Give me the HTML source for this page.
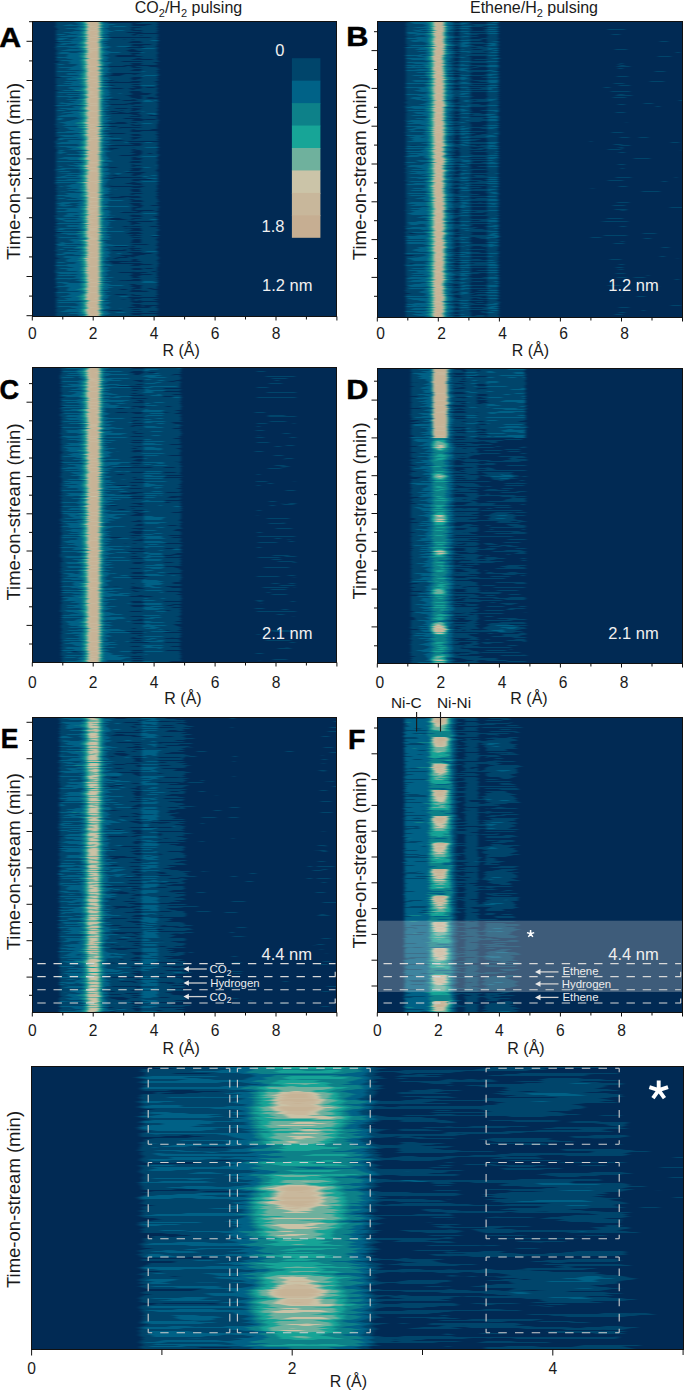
<!DOCTYPE html>
<html><head><meta charset="utf-8"><title>figure</title><style>
html,body{margin:0;padding:0;background:#fff;}
body{width:685px;height:1390px;overflow:hidden;}
svg{display:block;}
text{font-family:"Liberation Sans", sans-serif;}
.tk{font-size:15.6px;fill:#1a1a1a;}
.ax{font-size:16px;fill:#1a1a1a;}
.yl{font-size:18.5px;fill:#1a1a1a;}
.pl{font-size:27.5px;font-weight:bold;fill:#000;stroke:#000;stroke-width:0.5px;}
.tt{font-size:16px;fill:#1a1a1a;}
.nm{font-size:16.5px;fill:#f0f0f0;}
.an{font-size:11.4px;fill:#ececec;}
.ni{font-size:15.4px;fill:#1a1a1a;}
</style></head>
<body><svg width="685" height="1390" viewBox="0 0 685 1390">
<defs><radialGradient id="sGh"><stop offset="0.000" stop-color="#fcfcfc" stop-opacity="0.410"/><stop offset="0.550" stop-color="#fcfcfc" stop-opacity="0.360"/><stop offset="0.820" stop-color="#fcfcfc" stop-opacity="0.200"/><stop offset="1.000" stop-color="#fcfcfc" stop-opacity="0.000"/></radialGradient><radialGradient id="sGc"><stop offset="0.000" stop-color="#fcfcfc" stop-opacity="1.000"/><stop offset="0.550" stop-color="#fcfcfc" stop-opacity="0.727"/><stop offset="0.800" stop-color="#fcfcfc" stop-opacity="0.273"/><stop offset="1.000" stop-color="#fcfcfc" stop-opacity="0.000"/></radialGradient><radialGradient id="sF"><stop offset="0.000" stop-color="#fcfcfc" stop-opacity="1.000"/><stop offset="0.450" stop-color="#fcfcfc" stop-opacity="0.754"/><stop offset="0.600" stop-color="#fcfcfc" stop-opacity="0.491"/><stop offset="0.750" stop-color="#fcfcfc" stop-opacity="0.351"/><stop offset="0.900" stop-color="#fcfcfc" stop-opacity="0.193"/><stop offset="1.000" stop-color="#fcfcfc" stop-opacity="0.000"/></radialGradient><radialGradient id="sD5"><stop offset="0.000" stop-color="#fcfcfc" stop-opacity="0.446"/><stop offset="0.500" stop-color="#fcfcfc" stop-opacity="0.339"/><stop offset="0.800" stop-color="#fcfcfc" stop-opacity="0.179"/><stop offset="1.000" stop-color="#fcfcfc" stop-opacity="0.000"/></radialGradient><radialGradient id="sD8"><stop offset="0.000" stop-color="#fcfcfc" stop-opacity="1.000"/><stop offset="0.450" stop-color="#fcfcfc" stop-opacity="0.750"/><stop offset="0.600" stop-color="#fcfcfc" stop-opacity="0.482"/><stop offset="0.750" stop-color="#fcfcfc" stop-opacity="0.339"/><stop offset="0.900" stop-color="#fcfcfc" stop-opacity="0.179"/><stop offset="1.000" stop-color="#fcfcfc" stop-opacity="0.000"/></radialGradient><radialGradient id="sB"><stop offset="0.000" stop-color="#fcfcfc" stop-opacity="0.167"/><stop offset="0.600" stop-color="#fcfcfc" stop-opacity="0.128"/><stop offset="1.000" stop-color="#fcfcfc" stop-opacity="0.000"/></radialGradient><radialGradient id="sBf"><stop offset="0.000" stop-color="#fcfcfc" stop-opacity="0.107"/><stop offset="0.600" stop-color="#fcfcfc" stop-opacity="0.082"/><stop offset="1.000" stop-color="#fcfcfc" stop-opacity="0.000"/></radialGradient><radialGradient id="sB2"><stop offset="0.000" stop-color="#fcfcfc" stop-opacity="0.114"/><stop offset="0.600" stop-color="#fcfcfc" stop-opacity="0.089"/><stop offset="1.000" stop-color="#fcfcfc" stop-opacity="0.000"/></radialGradient><radialGradient id="sFu" cx="0.5" cy="0" r="1" fx="0.5" fy="0"><stop offset="0" stop-color="#fcfcfc" stop-opacity="1.000"/><stop offset="0.3" stop-color="#fcfcfc" stop-opacity="0.761"/><stop offset="0.45" stop-color="#fcfcfc" stop-opacity="0.457"/><stop offset="0.58" stop-color="#fcfcfc" stop-opacity="0.283"/><stop offset="0.78" stop-color="#fcfcfc" stop-opacity="0.130"/><stop offset="1.0" stop-color="#fcfcfc" stop-opacity="0.000"/></radialGradient><linearGradient id="gA" gradientUnits="userSpaceOnUse" x1="32.30" y1="0" x2="336.90" y2="0"><stop offset="0.0000" stop-color="#000000"/><stop offset="0.0750" stop-color="#000000"/><stop offset="0.0800" stop-color="#363636"/><stop offset="0.0920" stop-color="#3d3d3d"/><stop offset="0.1200" stop-color="#434343"/><stop offset="0.1450" stop-color="#474747"/><stop offset="0.1580" stop-color="#545454"/><stop offset="0.1680" stop-color="#6d6d6d"/><stop offset="0.1760" stop-color="#929292"/><stop offset="0.1820" stop-color="#bababa"/><stop offset="0.1870" stop-color="#fbfbfb"/><stop offset="0.2150" stop-color="#fbfbfb"/><stop offset="0.2200" stop-color="#aeaeae"/><stop offset="0.2250" stop-color="#818181"/><stop offset="0.2310" stop-color="#5f5f5f"/><stop offset="0.2370" stop-color="#4e4e4e"/><stop offset="0.2480" stop-color="#434343"/><stop offset="0.2560" stop-color="#343434"/><stop offset="0.3200" stop-color="#2f2f2f"/><stop offset="0.3280" stop-color="#252525"/><stop offset="0.3550" stop-color="#252525"/><stop offset="0.3620" stop-color="#333333"/><stop offset="0.4080" stop-color="#333333"/><stop offset="0.4140" stop-color="#181818"/><stop offset="0.4200" stop-color="#000000"/><stop offset="1.0000" stop-color="#000000"/></linearGradient><filter id="fA" x="0" y="0" width="1" height="1" color-interpolation-filters="sRGB">
<feTurbulence type="fractalNoise" baseFrequency="0.01 0.5" numOctaves="2" seed="3" result="t1"/>
<feColorMatrix in="t1" type="matrix" values="1 0 0 0 0  0 0 0 0 0.5  0 0 0 0 0  0 0 0 0 1" result="dm"/>
<feDisplacementMap in="SourceGraphic" in2="dm" scale="3" xChannelSelector="R" yChannelSelector="G" result="disp"/>
<feTurbulence type="fractalNoise" baseFrequency="0.03 0.8" numOctaves="2" seed="13" result="t2"/>
<feColorMatrix in="t2" type="matrix" values="1 0 0 0 0  1 0 0 0 0  1 0 0 0 0  0 0 0 0 1" result="nz"/>
<feComposite in="disp" in2="nz" operator="arithmetic" k1="0.35" k2="0.825" k3="0.22" k4="-0.1489" result="val"/>
<feComponentTransfer in="val" result="col">
<feFuncR type="discrete" tableValues="0.004 0.000 0.000 0.051 0.090 0.435 0.796 0.792 0.784"/><feFuncG type="discrete" tableValues="0.165 0.271 0.384 0.506 0.647 0.694 0.761 0.725 0.702"/><feFuncB type="discrete" tableValues="0.333 0.420 0.529 0.537 0.592 0.616 0.651 0.612 0.592"/>
<feFuncA type="linear" slope="0" intercept="1"/>
</feComponentTransfer>
<feGaussianBlur in="col" stdDeviation="1.8 0.5"/>
</filter><linearGradient id="gB" gradientUnits="userSpaceOnUse" x1="377.30" y1="0" x2="682.50" y2="0"><stop offset="0.0000" stop-color="#000000"/><stop offset="0.0900" stop-color="#000000"/><stop offset="0.0950" stop-color="#373737"/><stop offset="0.1200" stop-color="#404040"/><stop offset="0.1550" stop-color="#454545"/><stop offset="0.1650" stop-color="#545454"/><stop offset="0.1740" stop-color="#6d6d6d"/><stop offset="0.1810" stop-color="#929292"/><stop offset="0.1870" stop-color="#c2c2c2"/><stop offset="0.1920" stop-color="#fbfbfb"/><stop offset="0.2130" stop-color="#fbfbfb"/><stop offset="0.2170" stop-color="#b4b4b4"/><stop offset="0.2210" stop-color="#898989"/><stop offset="0.2260" stop-color="#656565"/><stop offset="0.2330" stop-color="#4e4e4e"/><stop offset="0.2450" stop-color="#404040"/><stop offset="0.2550" stop-color="#262626"/><stop offset="0.2680" stop-color="#262626"/><stop offset="0.2740" stop-color="#404040"/><stop offset="0.3000" stop-color="#404040"/><stop offset="0.3080" stop-color="#252525"/><stop offset="0.3580" stop-color="#252525"/><stop offset="0.3640" stop-color="#3e3e3e"/><stop offset="0.3940" stop-color="#3e3e3e"/><stop offset="0.4020" stop-color="#000000"/><stop offset="0.6800" stop-color="#000000"/><stop offset="0.7000" stop-color="#151515"/><stop offset="0.7700" stop-color="#171717"/><stop offset="0.8000" stop-color="#1e1e1e"/><stop offset="0.8300" stop-color="#171717"/><stop offset="0.9800" stop-color="#171717"/><stop offset="1.0000" stop-color="#141414"/></linearGradient><filter id="fB" x="0" y="0" width="1" height="1" color-interpolation-filters="sRGB">
<feTurbulence type="fractalNoise" baseFrequency="0.01 0.5" numOctaves="2" seed="10" result="t1"/>
<feColorMatrix in="t1" type="matrix" values="1 0 0 0 0  0 0 0 0 0.5  0 0 0 0 0  0 0 0 0 1" result="dm"/>
<feDisplacementMap in="SourceGraphic" in2="dm" scale="3" xChannelSelector="R" yChannelSelector="G" result="disp"/>
<feTurbulence type="fractalNoise" baseFrequency="0.03 0.8" numOctaves="2" seed="20" result="t2"/>
<feColorMatrix in="t2" type="matrix" values="1 0 0 0 0  1 0 0 0 0  1 0 0 0 0  0 0 0 0 1" result="nz"/>
<feComposite in="disp" in2="nz" operator="arithmetic" k1="0.35" k2="0.825" k3="0.22" k4="-0.1489" result="val"/>
<feComponentTransfer in="val" result="col">
<feFuncR type="discrete" tableValues="0.004 0.000 0.000 0.051 0.090 0.435 0.796 0.792 0.784"/><feFuncG type="discrete" tableValues="0.165 0.271 0.384 0.506 0.647 0.694 0.761 0.725 0.702"/><feFuncB type="discrete" tableValues="0.333 0.420 0.529 0.537 0.592 0.616 0.651 0.612 0.592"/>
<feFuncA type="linear" slope="0" intercept="1"/>
</feComponentTransfer>
<feGaussianBlur in="col" stdDeviation="1.8 0.5"/>
</filter><linearGradient id="gC" gradientUnits="userSpaceOnUse" x1="32.30" y1="0" x2="336.90" y2="0"><stop offset="0.0000" stop-color="#000000"/><stop offset="0.0920" stop-color="#000000"/><stop offset="0.0970" stop-color="#373737"/><stop offset="0.1200" stop-color="#404040"/><stop offset="0.1500" stop-color="#454545"/><stop offset="0.1620" stop-color="#545454"/><stop offset="0.1700" stop-color="#6d6d6d"/><stop offset="0.1780" stop-color="#929292"/><stop offset="0.1840" stop-color="#c2c2c2"/><stop offset="0.1900" stop-color="#fbfbfb"/><stop offset="0.2150" stop-color="#fbfbfb"/><stop offset="0.2200" stop-color="#b4b4b4"/><stop offset="0.2250" stop-color="#898989"/><stop offset="0.2300" stop-color="#656565"/><stop offset="0.2380" stop-color="#4b4b4b"/><stop offset="0.2550" stop-color="#3d3d3d"/><stop offset="0.3200" stop-color="#363636"/><stop offset="0.3300" stop-color="#282828"/><stop offset="0.3600" stop-color="#2a2a2a"/><stop offset="0.3700" stop-color="#3e3e3e"/><stop offset="0.4250" stop-color="#3e3e3e"/><stop offset="0.4400" stop-color="#323232"/><stop offset="0.4850" stop-color="#2f2f2f"/><stop offset="0.4950" stop-color="#000000"/><stop offset="0.7200" stop-color="#000000"/><stop offset="0.7400" stop-color="#1c1c1c"/><stop offset="0.8600" stop-color="#1c1c1c"/><stop offset="0.8900" stop-color="#000000"/><stop offset="1.0000" stop-color="#000000"/></linearGradient><filter id="fC" x="0" y="0" width="1" height="1" color-interpolation-filters="sRGB">
<feTurbulence type="fractalNoise" baseFrequency="0.01 0.5" numOctaves="2" seed="17" result="t1"/>
<feColorMatrix in="t1" type="matrix" values="1 0 0 0 0  0 0 0 0 0.5  0 0 0 0 0  0 0 0 0 1" result="dm"/>
<feDisplacementMap in="SourceGraphic" in2="dm" scale="3" xChannelSelector="R" yChannelSelector="G" result="disp"/>
<feTurbulence type="fractalNoise" baseFrequency="0.03 0.8" numOctaves="2" seed="27" result="t2"/>
<feColorMatrix in="t2" type="matrix" values="1 0 0 0 0  1 0 0 0 0  1 0 0 0 0  0 0 0 0 1" result="nz"/>
<feComposite in="disp" in2="nz" operator="arithmetic" k1="0.35" k2="0.825" k3="0.22" k4="-0.1489" result="val"/>
<feComponentTransfer in="val" result="col">
<feFuncR type="discrete" tableValues="0.004 0.000 0.000 0.051 0.090 0.435 0.796 0.792 0.784"/><feFuncG type="discrete" tableValues="0.165 0.271 0.384 0.506 0.647 0.694 0.761 0.725 0.702"/><feFuncB type="discrete" tableValues="0.333 0.420 0.529 0.537 0.592 0.616 0.651 0.612 0.592"/>
<feFuncA type="linear" slope="0" intercept="1"/>
</feComponentTransfer>
<feGaussianBlur in="col" stdDeviation="1.8 0.5"/>
</filter><linearGradient id="gD" gradientUnits="userSpaceOnUse" x1="377.30" y1="0" x2="682.50" y2="0"><stop offset="0.0000" stop-color="#000000"/><stop offset="0.1060" stop-color="#000000"/><stop offset="0.1120" stop-color="#2f2f2f"/><stop offset="0.1400" stop-color="#3a3a3a"/><stop offset="0.1600" stop-color="#434343"/><stop offset="0.1750" stop-color="#515151"/><stop offset="0.1850" stop-color="#6a6a6a"/><stop offset="0.1950" stop-color="#767676"/><stop offset="0.2150" stop-color="#767676"/><stop offset="0.2250" stop-color="#656565"/><stop offset="0.2350" stop-color="#515151"/><stop offset="0.2450" stop-color="#404040"/><stop offset="0.2550" stop-color="#292929"/><stop offset="0.2850" stop-color="#262626"/><stop offset="0.2950" stop-color="#2a2a2a"/><stop offset="0.3250" stop-color="#2a2a2a"/><stop offset="0.3350" stop-color="#1e1e1e"/><stop offset="0.3500" stop-color="#1e1e1e"/><stop offset="0.3600" stop-color="#222222"/><stop offset="0.4850" stop-color="#222222"/><stop offset="0.4950" stop-color="#000000"/><stop offset="1.0000" stop-color="#000000"/></linearGradient><filter id="fD" x="0" y="0" width="1" height="1" color-interpolation-filters="sRGB">
<feTurbulence type="fractalNoise" baseFrequency="0.01 0.5" numOctaves="2" seed="24" result="t1"/>
<feColorMatrix in="t1" type="matrix" values="1 0 0 0 0  0 0 0 0 0.5  0 0 0 0 0  0 0 0 0 1" result="dm"/>
<feDisplacementMap in="SourceGraphic" in2="dm" scale="3" xChannelSelector="R" yChannelSelector="G" result="disp"/>
<feTurbulence type="fractalNoise" baseFrequency="0.03 0.8" numOctaves="2" seed="34" result="t2"/>
<feColorMatrix in="t2" type="matrix" values="1 0 0 0 0  1 0 0 0 0  1 0 0 0 0  0 0 0 0 1" result="nz"/>
<feComposite in="disp" in2="nz" operator="arithmetic" k1="0.3" k2="0.85" k3="0.2" k4="-0.1389" result="val"/>
<feComponentTransfer in="val" result="col">
<feFuncR type="discrete" tableValues="0.004 0.000 0.000 0.051 0.090 0.435 0.796 0.792 0.784"/><feFuncG type="discrete" tableValues="0.165 0.271 0.384 0.506 0.647 0.694 0.761 0.725 0.702"/><feFuncB type="discrete" tableValues="0.333 0.420 0.529 0.537 0.592 0.616 0.651 0.612 0.592"/>
<feFuncA type="linear" slope="0" intercept="1"/>
</feComponentTransfer>
<feGaussianBlur in="col" stdDeviation="1.8 0.5"/>
</filter><linearGradient id="gE" gradientUnits="userSpaceOnUse" x1="32.30" y1="0" x2="336.90" y2="0"><stop offset="0.0000" stop-color="#000000"/><stop offset="0.0860" stop-color="#000000"/><stop offset="0.0910" stop-color="#373737"/><stop offset="0.1200" stop-color="#434343"/><stop offset="0.1550" stop-color="#474747"/><stop offset="0.1660" stop-color="#565656"/><stop offset="0.1740" stop-color="#707070"/><stop offset="0.1810" stop-color="#8f8f8f"/><stop offset="0.1870" stop-color="#bababa"/><stop offset="0.2150" stop-color="#bababa"/><stop offset="0.2210" stop-color="#8f8f8f"/><stop offset="0.2270" stop-color="#707070"/><stop offset="0.2340" stop-color="#545454"/><stop offset="0.2440" stop-color="#434343"/><stop offset="0.2600" stop-color="#363636"/><stop offset="0.3220" stop-color="#323232"/><stop offset="0.3300" stop-color="#292929"/><stop offset="0.3560" stop-color="#292929"/><stop offset="0.3620" stop-color="#434343"/><stop offset="0.4080" stop-color="#434343"/><stop offset="0.4160" stop-color="#303030"/><stop offset="0.4950" stop-color="#292929"/><stop offset="0.5050" stop-color="#181818"/><stop offset="0.5600" stop-color="#171717"/><stop offset="0.5700" stop-color="#121212"/><stop offset="0.6300" stop-color="#121212"/><stop offset="0.6600" stop-color="#1b1b1b"/><stop offset="0.6900" stop-color="#121212"/><stop offset="0.9200" stop-color="#121212"/><stop offset="0.9600" stop-color="#1b1b1b"/><stop offset="1.0000" stop-color="#171717"/></linearGradient><filter id="fE" x="0" y="0" width="1" height="1" color-interpolation-filters="sRGB">
<feTurbulence type="fractalNoise" baseFrequency="0.01 0.5" numOctaves="2" seed="31" result="t1"/>
<feColorMatrix in="t1" type="matrix" values="1 0 0 0 0  0 0 0 0 0.5  0 0 0 0 0  0 0 0 0 1" result="dm"/>
<feDisplacementMap in="SourceGraphic" in2="dm" scale="3" xChannelSelector="R" yChannelSelector="G" result="disp"/>
<feTurbulence type="fractalNoise" baseFrequency="0.03 0.8" numOctaves="2" seed="41" result="t2"/>
<feColorMatrix in="t2" type="matrix" values="1 0 0 0 0  1 0 0 0 0  1 0 0 0 0  0 0 0 0 1" result="nz"/>
<feComposite in="disp" in2="nz" operator="arithmetic" k1="0.45" k2="0.775" k3="0.22" k4="-0.1489" result="val"/>
<feComponentTransfer in="val" result="col">
<feFuncR type="discrete" tableValues="0.004 0.000 0.000 0.051 0.090 0.435 0.796 0.792 0.784"/><feFuncG type="discrete" tableValues="0.165 0.271 0.384 0.506 0.647 0.694 0.761 0.725 0.702"/><feFuncB type="discrete" tableValues="0.333 0.420 0.529 0.537 0.592 0.616 0.651 0.612 0.592"/>
<feFuncA type="linear" slope="0" intercept="1"/>
</feComponentTransfer>
<feGaussianBlur in="col" stdDeviation="1.8 0.5"/>
</filter><linearGradient id="gF" gradientUnits="userSpaceOnUse" x1="377.30" y1="0" x2="682.50" y2="0"><stop offset="0.0000" stop-color="#000000"/><stop offset="0.0850" stop-color="#000000"/><stop offset="0.0900" stop-color="#434343"/><stop offset="0.1000" stop-color="#4b4b4b"/><stop offset="0.1600" stop-color="#4d4d4d"/><stop offset="0.1700" stop-color="#5c5c5c"/><stop offset="0.1780" stop-color="#848484"/><stop offset="0.2350" stop-color="#848484"/><stop offset="0.2420" stop-color="#5c5c5c"/><stop offset="0.2500" stop-color="#434343"/><stop offset="0.2580" stop-color="#323232"/><stop offset="0.2620" stop-color="#222222"/><stop offset="0.2850" stop-color="#222222"/><stop offset="0.2900" stop-color="#2f2f2f"/><stop offset="0.3280" stop-color="#2f2f2f"/><stop offset="0.3330" stop-color="#1c1c1c"/><stop offset="0.3520" stop-color="#1c1c1c"/><stop offset="0.3580" stop-color="#262626"/><stop offset="0.4300" stop-color="#252525"/><stop offset="0.4600" stop-color="#1e1e1e"/><stop offset="0.4750" stop-color="#121212"/><stop offset="0.4800" stop-color="#000000"/><stop offset="1.0000" stop-color="#000000"/></linearGradient><filter id="fF" x="0" y="0" width="1" height="1" color-interpolation-filters="sRGB">
<feTurbulence type="fractalNoise" baseFrequency="0.01 0.5" numOctaves="2" seed="38" result="t1"/>
<feColorMatrix in="t1" type="matrix" values="1 0 0 0 0  0 0 0 0 0.5  0 0 0 0 0  0 0 0 0 1" result="dm"/>
<feDisplacementMap in="SourceGraphic" in2="dm" scale="3" xChannelSelector="R" yChannelSelector="G" result="disp"/>
<feTurbulence type="fractalNoise" baseFrequency="0.03 0.8" numOctaves="2" seed="48" result="t2"/>
<feColorMatrix in="t2" type="matrix" values="1 0 0 0 0  1 0 0 0 0  1 0 0 0 0  0 0 0 0 1" result="nz"/>
<feComposite in="disp" in2="nz" operator="arithmetic" k1="0.3" k2="0.85" k3="0.2" k4="-0.1389" result="val"/>
<feComponentTransfer in="val" result="col">
<feFuncR type="discrete" tableValues="0.004 0.000 0.000 0.051 0.090 0.435 0.796 0.792 0.784"/><feFuncG type="discrete" tableValues="0.165 0.271 0.384 0.506 0.647 0.694 0.761 0.725 0.702"/><feFuncB type="discrete" tableValues="0.333 0.420 0.529 0.537 0.592 0.616 0.651 0.612 0.592"/>
<feFuncA type="linear" slope="0" intercept="1"/>
</feComponentTransfer>
<feGaussianBlur in="col" stdDeviation="1.8 0.5"/>
</filter><linearGradient id="gG" gradientUnits="userSpaceOnUse" x1="31.60" y1="0" x2="683.10" y2="0"><stop offset="0.0000" stop-color="#000000"/><stop offset="0.1600" stop-color="#000000"/><stop offset="0.1720" stop-color="#323232"/><stop offset="0.1900" stop-color="#3c3c3c"/><stop offset="0.2400" stop-color="#3c3c3c"/><stop offset="0.3000" stop-color="#3d3d3d"/><stop offset="0.3240" stop-color="#454545"/><stop offset="0.3400" stop-color="#545454"/><stop offset="0.3560" stop-color="#656565"/><stop offset="0.3800" stop-color="#737373"/><stop offset="0.4000" stop-color="#7a7a7a"/><stop offset="0.4600" stop-color="#787878"/><stop offset="0.4840" stop-color="#6a6a6a"/><stop offset="0.5040" stop-color="#595959"/><stop offset="0.5200" stop-color="#3d3d3d"/><stop offset="0.5280" stop-color="#292929"/><stop offset="0.5400" stop-color="#1e1e1e"/><stop offset="0.5600" stop-color="#1c1c1c"/><stop offset="0.5700" stop-color="#252525"/><stop offset="0.6400" stop-color="#252525"/><stop offset="0.6600" stop-color="#1b1b1b"/><stop offset="0.6900" stop-color="#1b1b1b"/><stop offset="0.7000" stop-color="#212121"/><stop offset="0.9000" stop-color="#212121"/><stop offset="0.9200" stop-color="#121212"/><stop offset="1.0000" stop-color="#121212"/></linearGradient><filter id="fG" x="0" y="0" width="1" height="1" color-interpolation-filters="sRGB">
<feTurbulence type="fractalNoise" baseFrequency="0.01 0.5" numOctaves="2" seed="45" result="t1"/>
<feColorMatrix in="t1" type="matrix" values="1 0 0 0 0  0 0 0 0 0.5  0 0 0 0 0  0 0 0 0 1" result="dm"/>
<feDisplacementMap in="SourceGraphic" in2="dm" scale="10" xChannelSelector="R" yChannelSelector="G" result="disp"/>
<feTurbulence type="fractalNoise" baseFrequency="0.009 0.3" numOctaves="2" seed="55" result="t2"/>
<feColorMatrix in="t2" type="matrix" values="1 0 0 0 0  1 0 0 0 0  1 0 0 0 0  0 0 0 0 1" result="nz"/>
<feComposite in="disp" in2="nz" operator="arithmetic" k1="0.15" k2="0.925" k3="0.36" k4="-0.2189" result="val"/>
<feComponentTransfer in="val" result="col">
<feFuncR type="discrete" tableValues="0.004 0.000 0.000 0.051 0.090 0.435 0.796 0.792 0.784"/><feFuncG type="discrete" tableValues="0.165 0.271 0.384 0.506 0.647 0.694 0.761 0.725 0.702"/><feFuncB type="discrete" tableValues="0.333 0.420 0.529 0.537 0.592 0.616 0.651 0.612 0.592"/>
<feFuncA type="linear" slope="0" intercept="1"/>
</feComponentTransfer>
<feGaussianBlur in="col" stdDeviation="2 0.5"/>
</filter></defs>
<clipPath id="cA"><rect x="33" y="22" width="303" height="294"/></clipPath><g clip-path="url(#cA)"><g filter="url(#fA)"><rect x="20" y="13" width="328" height="311" fill="url(#gA)"/></g></g><clipPath id="cB"><rect x="378" y="22" width="304" height="295"/></clipPath><g clip-path="url(#cB)"><g filter="url(#fB)"><rect x="365" y="13" width="329" height="312" fill="url(#gB)"/></g></g><clipPath id="cC"><rect x="33" y="368" width="303" height="294"/></clipPath><g clip-path="url(#cC)"><g filter="url(#fC)"><rect x="20" y="359" width="328" height="311" fill="url(#gC)"/></g></g><clipPath id="cD"><rect x="378" y="369" width="304" height="294"/></clipPath><g clip-path="url(#cD)"><g filter="url(#fD)"><rect x="365" y="360" width="329" height="311" fill="url(#gD)"/><rect x="433.5" y="360" width="13.7" height="77.5" fill="#fcfcfc"/><rect x="432.2" y="360" width="15.9" height="78" fill="#8c8c8c" opacity="0.8"/><rect x="433.5" y="360" width="13.7" height="77.5" fill="#fcfcfc"/><rect x="478.0" y="360" width="8.5" height="78" fill="#2c2c2c"/><rect x="486.6" y="360" width="38.8" height="78" fill="#3c3c3c"/><rect x="465.8" y="360" width="11.3" height="78" fill="#3a3a3a"/><ellipse cx="439.3" cy="445.0" rx="9" ry="6" fill="url(#sD5)"/><ellipse cx="439.3" cy="476.6" rx="9" ry="4" fill="url(#sD5)"/><ellipse cx="439.3" cy="519.0" rx="9" ry="7" fill="url(#sD5)"/><ellipse cx="439.3" cy="552.6" rx="9" ry="4" fill="url(#sD5)"/><ellipse cx="439.3" cy="591.5" rx="9" ry="4" fill="url(#sD5)"/><ellipse cx="439.3" cy="628.6" rx="10" ry="7" fill="url(#sD8)"/><ellipse cx="439.3" cy="660.0" rx="9" ry="5" fill="url(#sD5)"/><ellipse cx="502.4" cy="476.0" rx="16" ry="5" fill="url(#sB)"/><ellipse cx="502.4" cy="517.0" rx="16" ry="6" fill="url(#sB)"/><ellipse cx="502.4" cy="628.0" rx="20" ry="6" fill="url(#sB)"/></g></g><clipPath id="cE"><rect x="33" y="718" width="303" height="294"/></clipPath><g clip-path="url(#cE)"><g filter="url(#fE)"><rect x="20" y="709" width="328" height="311" fill="url(#gE)"/></g></g><clipPath id="cF"><rect x="378" y="718" width="304" height="294"/></clipPath><g clip-path="url(#cF)"><g filter="url(#fF)"><rect x="365" y="709" width="329" height="311" fill="url(#gF)"/><rect x="429.9" y="710.5" width="20" height="6" fill="#5f5f5f" opacity="0.8"/><path d="M431.9,716.5 A8,22 0 0 0 447.9,716.5 Z" fill="url(#sFu)"/><rect x="429.9" y="731.1" width="20" height="6" fill="#5f5f5f" opacity="0.8"/><path d="M431.9,737.1 A8,22 0 0 0 447.9,737.1 Z" fill="url(#sFu)"/><rect x="429.9" y="757.5" width="20" height="6" fill="#5f5f5f" opacity="0.8"/><path d="M431.9,763.5 A8,22 0 0 0 447.9,763.5 Z" fill="url(#sFu)"/><rect x="429.9" y="783.9" width="20" height="6" fill="#5f5f5f" opacity="0.8"/><path d="M431.9,789.9 A8,22 0 0 0 447.9,789.9 Z" fill="url(#sFu)"/><rect x="429.9" y="810.3" width="20" height="6" fill="#5f5f5f" opacity="0.8"/><path d="M431.9,816.3 A8,22 0 0 0 447.9,816.3 Z" fill="url(#sFu)"/><rect x="429.9" y="836.7" width="20" height="6" fill="#5f5f5f" opacity="0.8"/><path d="M431.9,842.7 A8,22 0 0 0 447.9,842.7 Z" fill="url(#sFu)"/><rect x="429.9" y="863.1" width="20" height="6" fill="#5f5f5f" opacity="0.8"/><path d="M431.9,869.1 A8,22 0 0 0 447.9,869.1 Z" fill="url(#sFu)"/><rect x="429.9" y="889.5" width="20" height="6" fill="#5f5f5f" opacity="0.8"/><path d="M431.9,895.5 A8,22 0 0 0 447.9,895.5 Z" fill="url(#sFu)"/><rect x="429.9" y="915.9" width="20" height="6" fill="#5f5f5f" opacity="0.8"/><path d="M431.9,921.9 A8,22 0 0 0 447.9,921.9 Z" fill="url(#sFu)"/><rect x="429.9" y="942.3" width="20" height="6" fill="#5f5f5f" opacity="0.8"/><path d="M431.9,948.3 A8,22 0 0 0 447.9,948.3 Z" fill="url(#sFu)"/><rect x="429.9" y="968.7" width="20" height="6" fill="#5f5f5f" opacity="0.8"/><path d="M431.9,974.7 A8,22 0 0 0 447.9,974.7 Z" fill="url(#sFu)"/><rect x="429.9" y="995.1" width="20" height="6" fill="#5f5f5f" opacity="0.8"/><path d="M431.9,1001.1 A8,22 0 0 0 447.9,1001.1 Z" fill="url(#sFu)"/><ellipse cx="499.4" cy="745.0" rx="20" ry="7" fill="url(#sBf)"/><ellipse cx="499.4" cy="771.4" rx="20" ry="7" fill="url(#sBf)"/><ellipse cx="499.4" cy="797.8" rx="20" ry="7" fill="url(#sBf)"/><ellipse cx="499.4" cy="824.2" rx="20" ry="7" fill="url(#sBf)"/><ellipse cx="499.4" cy="850.6" rx="20" ry="7" fill="url(#sBf)"/><ellipse cx="499.4" cy="877.0" rx="20" ry="7" fill="url(#sBf)"/><ellipse cx="499.4" cy="903.4" rx="20" ry="7" fill="url(#sBf)"/><ellipse cx="499.4" cy="929.8" rx="20" ry="7" fill="url(#sBf)"/><ellipse cx="499.4" cy="956.2" rx="20" ry="7" fill="url(#sBf)"/><ellipse cx="499.4" cy="982.6" rx="20" ry="7" fill="url(#sBf)"/><ellipse cx="499.4" cy="1009.0" rx="20" ry="7" fill="url(#sBf)"/><ellipse cx="499.4" cy="1035.4" rx="20" ry="7" fill="url(#sBf)"/></g></g><clipPath id="cG"><rect x="32" y="1067" width="651" height="282"/></clipPath><g clip-path="url(#cG)"><g filter="url(#fG)"><rect x="19" y="1058" width="676" height="299" fill="url(#gG)"/><ellipse cx="298.0" cy="1114.0" rx="52" ry="40" fill="url(#sGh)"/><ellipse cx="298.0" cy="1104.0" rx="29" ry="15.5" fill="url(#sGc)"/><ellipse cx="298.0" cy="1207.0" rx="52" ry="40" fill="url(#sGh)"/><ellipse cx="298.0" cy="1197.0" rx="29" ry="15.5" fill="url(#sGc)"/><ellipse cx="298.0" cy="1303.0" rx="52" ry="40" fill="url(#sGh)"/><ellipse cx="298.0" cy="1293.0" rx="29" ry="15.5" fill="url(#sGc)"/><ellipse cx="552.8" cy="1095.0" rx="70" ry="22" fill="url(#sB2)"/><ellipse cx="552.8" cy="1195.0" rx="70" ry="22" fill="url(#sB2)"/><ellipse cx="552.8" cy="1285.0" rx="70" ry="22" fill="url(#sB2)"/></g></g><rect x="32.5" y="21.5" width="304" height="295" fill="none" stroke="#111" stroke-width="1"/><rect x="377.5" y="21.5" width="305" height="296" fill="none" stroke="#111" stroke-width="1"/><rect x="32.5" y="367.5" width="304" height="295" fill="none" stroke="#111" stroke-width="1"/><rect x="377.5" y="368.5" width="305" height="295" fill="none" stroke="#111" stroke-width="1"/><rect x="32.5" y="717.5" width="304" height="295" fill="none" stroke="#111" stroke-width="1"/><rect x="377.5" y="717.5" width="305" height="295" fill="none" stroke="#111" stroke-width="1"/><rect x="31.5" y="1066.5" width="652" height="283" fill="none" stroke="#111" stroke-width="1"/><line x1="32.3" y1="316.5" x2="32.3" y2="320.5" stroke="#111" stroke-width="1"/><text x="32.3" y="339.4" text-anchor="middle" class="tk">0</text><line x1="62.8" y1="316.5" x2="62.8" y2="319.5" stroke="#111" stroke-width="1"/><line x1="93.2" y1="316.5" x2="93.2" y2="320.5" stroke="#111" stroke-width="1"/><text x="93.2" y="339.4" text-anchor="middle" class="tk">2</text><line x1="123.7" y1="316.5" x2="123.7" y2="319.5" stroke="#111" stroke-width="1"/><line x1="154.1" y1="316.5" x2="154.1" y2="320.5" stroke="#111" stroke-width="1"/><text x="154.1" y="339.4" text-anchor="middle" class="tk">4</text><line x1="184.6" y1="316.5" x2="184.6" y2="319.5" stroke="#111" stroke-width="1"/><line x1="215.1" y1="316.5" x2="215.1" y2="320.5" stroke="#111" stroke-width="1"/><text x="215.1" y="339.4" text-anchor="middle" class="tk">6</text><line x1="245.5" y1="316.5" x2="245.5" y2="319.5" stroke="#111" stroke-width="1"/><line x1="276.0" y1="316.5" x2="276.0" y2="320.5" stroke="#111" stroke-width="1"/><text x="276.0" y="339.4" text-anchor="middle" class="tk">8</text><line x1="306.4" y1="316.5" x2="306.4" y2="319.5" stroke="#111" stroke-width="1"/><line x1="336.9" y1="316.5" x2="336.9" y2="320.5" stroke="#111" stroke-width="1"/><line x1="377.3" y1="317.5" x2="377.3" y2="321.5" stroke="#111" stroke-width="1"/><text x="380.5" y="339.4" text-anchor="middle" class="tk">0</text><line x1="407.8" y1="317.5" x2="407.8" y2="320.5" stroke="#111" stroke-width="1"/><line x1="438.3" y1="317.5" x2="438.3" y2="321.5" stroke="#111" stroke-width="1"/><text x="441.5" y="339.4" text-anchor="middle" class="tk">2</text><line x1="468.9" y1="317.5" x2="468.9" y2="320.5" stroke="#111" stroke-width="1"/><line x1="499.4" y1="317.5" x2="499.4" y2="321.5" stroke="#111" stroke-width="1"/><text x="502.6" y="339.4" text-anchor="middle" class="tk">4</text><line x1="529.9" y1="317.5" x2="529.9" y2="320.5" stroke="#111" stroke-width="1"/><line x1="560.4" y1="317.5" x2="560.4" y2="321.5" stroke="#111" stroke-width="1"/><text x="563.6" y="339.4" text-anchor="middle" class="tk">6</text><line x1="590.9" y1="317.5" x2="590.9" y2="320.5" stroke="#111" stroke-width="1"/><line x1="621.5" y1="317.5" x2="621.5" y2="321.5" stroke="#111" stroke-width="1"/><text x="624.7" y="339.4" text-anchor="middle" class="tk">8</text><line x1="652.0" y1="317.5" x2="652.0" y2="320.5" stroke="#111" stroke-width="1"/><line x1="682.5" y1="317.5" x2="682.5" y2="321.5" stroke="#111" stroke-width="1"/><line x1="32.3" y1="662.5" x2="32.3" y2="666.5" stroke="#111" stroke-width="1"/><text x="32.3" y="687.6" text-anchor="middle" class="tk">0</text><line x1="62.8" y1="662.5" x2="62.8" y2="665.5" stroke="#111" stroke-width="1"/><line x1="93.2" y1="662.5" x2="93.2" y2="666.5" stroke="#111" stroke-width="1"/><text x="93.2" y="687.6" text-anchor="middle" class="tk">2</text><line x1="123.7" y1="662.5" x2="123.7" y2="665.5" stroke="#111" stroke-width="1"/><line x1="154.1" y1="662.5" x2="154.1" y2="666.5" stroke="#111" stroke-width="1"/><text x="154.1" y="687.6" text-anchor="middle" class="tk">4</text><line x1="184.6" y1="662.5" x2="184.6" y2="665.5" stroke="#111" stroke-width="1"/><line x1="215.1" y1="662.5" x2="215.1" y2="666.5" stroke="#111" stroke-width="1"/><text x="215.1" y="687.6" text-anchor="middle" class="tk">6</text><line x1="245.5" y1="662.5" x2="245.5" y2="665.5" stroke="#111" stroke-width="1"/><line x1="276.0" y1="662.5" x2="276.0" y2="666.5" stroke="#111" stroke-width="1"/><text x="276.0" y="687.6" text-anchor="middle" class="tk">8</text><line x1="306.4" y1="662.5" x2="306.4" y2="665.5" stroke="#111" stroke-width="1"/><line x1="336.9" y1="662.5" x2="336.9" y2="666.5" stroke="#111" stroke-width="1"/><line x1="377.3" y1="663.5" x2="377.3" y2="667.5" stroke="#111" stroke-width="1"/><text x="379.9" y="687.8" text-anchor="middle" class="tk">0</text><line x1="407.8" y1="663.5" x2="407.8" y2="666.5" stroke="#111" stroke-width="1"/><line x1="438.3" y1="663.5" x2="438.3" y2="667.5" stroke="#111" stroke-width="1"/><text x="440.9" y="687.8" text-anchor="middle" class="tk">2</text><line x1="468.9" y1="663.5" x2="468.9" y2="666.5" stroke="#111" stroke-width="1"/><line x1="499.4" y1="663.5" x2="499.4" y2="667.5" stroke="#111" stroke-width="1"/><text x="502.0" y="687.8" text-anchor="middle" class="tk">4</text><line x1="529.9" y1="663.5" x2="529.9" y2="666.5" stroke="#111" stroke-width="1"/><line x1="560.4" y1="663.5" x2="560.4" y2="667.5" stroke="#111" stroke-width="1"/><text x="563.0" y="687.8" text-anchor="middle" class="tk">6</text><line x1="590.9" y1="663.5" x2="590.9" y2="666.5" stroke="#111" stroke-width="1"/><line x1="621.5" y1="663.5" x2="621.5" y2="667.5" stroke="#111" stroke-width="1"/><text x="624.1" y="687.8" text-anchor="middle" class="tk">8</text><line x1="652.0" y1="663.5" x2="652.0" y2="666.5" stroke="#111" stroke-width="1"/><line x1="682.5" y1="663.5" x2="682.5" y2="667.5" stroke="#111" stroke-width="1"/><line x1="32.3" y1="1012.5" x2="32.3" y2="1016.5" stroke="#111" stroke-width="1"/><text x="32.3" y="1035.6" text-anchor="middle" class="tk">0</text><line x1="62.8" y1="1012.5" x2="62.8" y2="1015.5" stroke="#111" stroke-width="1"/><line x1="93.2" y1="1012.5" x2="93.2" y2="1016.5" stroke="#111" stroke-width="1"/><text x="93.2" y="1035.6" text-anchor="middle" class="tk">2</text><line x1="123.7" y1="1012.5" x2="123.7" y2="1015.5" stroke="#111" stroke-width="1"/><line x1="154.1" y1="1012.5" x2="154.1" y2="1016.5" stroke="#111" stroke-width="1"/><text x="154.1" y="1035.6" text-anchor="middle" class="tk">4</text><line x1="184.6" y1="1012.5" x2="184.6" y2="1015.5" stroke="#111" stroke-width="1"/><line x1="215.1" y1="1012.5" x2="215.1" y2="1016.5" stroke="#111" stroke-width="1"/><text x="215.1" y="1035.6" text-anchor="middle" class="tk">6</text><line x1="245.5" y1="1012.5" x2="245.5" y2="1015.5" stroke="#111" stroke-width="1"/><line x1="276.0" y1="1012.5" x2="276.0" y2="1016.5" stroke="#111" stroke-width="1"/><text x="276.0" y="1035.6" text-anchor="middle" class="tk">8</text><line x1="306.4" y1="1012.5" x2="306.4" y2="1015.5" stroke="#111" stroke-width="1"/><line x1="336.9" y1="1012.5" x2="336.9" y2="1016.5" stroke="#111" stroke-width="1"/><line x1="377.3" y1="1012.5" x2="377.3" y2="1016.5" stroke="#111" stroke-width="1"/><text x="377.3" y="1035.6" text-anchor="middle" class="tk">0</text><line x1="407.8" y1="1012.5" x2="407.8" y2="1015.5" stroke="#111" stroke-width="1"/><line x1="438.3" y1="1012.5" x2="438.3" y2="1016.5" stroke="#111" stroke-width="1"/><text x="438.3" y="1035.6" text-anchor="middle" class="tk">2</text><line x1="468.9" y1="1012.5" x2="468.9" y2="1015.5" stroke="#111" stroke-width="1"/><line x1="499.4" y1="1012.5" x2="499.4" y2="1016.5" stroke="#111" stroke-width="1"/><text x="499.4" y="1035.6" text-anchor="middle" class="tk">4</text><line x1="529.9" y1="1012.5" x2="529.9" y2="1015.5" stroke="#111" stroke-width="1"/><line x1="560.4" y1="1012.5" x2="560.4" y2="1016.5" stroke="#111" stroke-width="1"/><text x="560.4" y="1035.6" text-anchor="middle" class="tk">6</text><line x1="590.9" y1="1012.5" x2="590.9" y2="1015.5" stroke="#111" stroke-width="1"/><line x1="621.5" y1="1012.5" x2="621.5" y2="1016.5" stroke="#111" stroke-width="1"/><text x="621.5" y="1035.6" text-anchor="middle" class="tk">8</text><line x1="652.0" y1="1012.5" x2="652.0" y2="1015.5" stroke="#111" stroke-width="1"/><line x1="682.5" y1="1012.5" x2="682.5" y2="1016.5" stroke="#111" stroke-width="1"/><line x1="31.6" y1="1349.5" x2="31.6" y2="1355.5" stroke="#111" stroke-width="1"/><text x="31.6" y="1373.6" text-anchor="middle" class="tk">0</text><line x1="161.9" y1="1349.5" x2="161.9" y2="1355.0" stroke="#111" stroke-width="1"/><line x1="292.2" y1="1349.5" x2="292.2" y2="1355.5" stroke="#111" stroke-width="1"/><text x="292.2" y="1373.6" text-anchor="middle" class="tk">2</text><line x1="422.5" y1="1349.5" x2="422.5" y2="1355.0" stroke="#111" stroke-width="1"/><line x1="552.8" y1="1349.5" x2="552.8" y2="1355.5" stroke="#111" stroke-width="1"/><text x="552.8" y="1373.6" text-anchor="middle" class="tk">4</text><line x1="683.1" y1="1349.5" x2="683.1" y2="1355.0" stroke="#111" stroke-width="1"/><line x1="29.0" y1="21.7" x2="32.5" y2="21.7" stroke="#111" stroke-width="1"/><line x1="26.5" y1="41.3" x2="32.5" y2="41.3" stroke="#111" stroke-width="1"/><line x1="29.0" y1="60.9" x2="32.5" y2="60.9" stroke="#111" stroke-width="1"/><line x1="26.5" y1="80.5" x2="32.5" y2="80.5" stroke="#111" stroke-width="1"/><line x1="29.0" y1="100.1" x2="32.5" y2="100.1" stroke="#111" stroke-width="1"/><line x1="26.5" y1="119.7" x2="32.5" y2="119.7" stroke="#111" stroke-width="1"/><line x1="29.0" y1="139.3" x2="32.5" y2="139.3" stroke="#111" stroke-width="1"/><line x1="26.5" y1="158.9" x2="32.5" y2="158.9" stroke="#111" stroke-width="1"/><line x1="29.0" y1="178.5" x2="32.5" y2="178.5" stroke="#111" stroke-width="1"/><line x1="26.5" y1="198.1" x2="32.5" y2="198.1" stroke="#111" stroke-width="1"/><line x1="29.0" y1="217.7" x2="32.5" y2="217.7" stroke="#111" stroke-width="1"/><line x1="26.5" y1="237.3" x2="32.5" y2="237.3" stroke="#111" stroke-width="1"/><line x1="29.0" y1="256.9" x2="32.5" y2="256.9" stroke="#111" stroke-width="1"/><line x1="26.5" y1="276.5" x2="32.5" y2="276.5" stroke="#111" stroke-width="1"/><line x1="29.0" y1="296.1" x2="32.5" y2="296.1" stroke="#111" stroke-width="1"/><line x1="26.5" y1="315.7" x2="32.5" y2="315.7" stroke="#111" stroke-width="1"/><line x1="374.0" y1="31.7" x2="377.5" y2="31.7" stroke="#111" stroke-width="1"/><line x1="371.5" y1="50.6" x2="377.5" y2="50.6" stroke="#111" stroke-width="1"/><line x1="374.0" y1="69.5" x2="377.5" y2="69.5" stroke="#111" stroke-width="1"/><line x1="371.5" y1="88.4" x2="377.5" y2="88.4" stroke="#111" stroke-width="1"/><line x1="374.0" y1="107.3" x2="377.5" y2="107.3" stroke="#111" stroke-width="1"/><line x1="371.5" y1="126.2" x2="377.5" y2="126.2" stroke="#111" stroke-width="1"/><line x1="374.0" y1="145.1" x2="377.5" y2="145.1" stroke="#111" stroke-width="1"/><line x1="371.5" y1="164.0" x2="377.5" y2="164.0" stroke="#111" stroke-width="1"/><line x1="374.0" y1="182.9" x2="377.5" y2="182.9" stroke="#111" stroke-width="1"/><line x1="371.5" y1="201.8" x2="377.5" y2="201.8" stroke="#111" stroke-width="1"/><line x1="374.0" y1="220.7" x2="377.5" y2="220.7" stroke="#111" stroke-width="1"/><line x1="371.5" y1="239.6" x2="377.5" y2="239.6" stroke="#111" stroke-width="1"/><line x1="374.0" y1="258.5" x2="377.5" y2="258.5" stroke="#111" stroke-width="1"/><line x1="371.5" y1="277.4" x2="377.5" y2="277.4" stroke="#111" stroke-width="1"/><line x1="374.0" y1="296.3" x2="377.5" y2="296.3" stroke="#111" stroke-width="1"/><line x1="29.0" y1="383.6" x2="32.5" y2="383.6" stroke="#111" stroke-width="1"/><line x1="26.5" y1="402.2" x2="32.5" y2="402.2" stroke="#111" stroke-width="1"/><line x1="29.0" y1="420.8" x2="32.5" y2="420.8" stroke="#111" stroke-width="1"/><line x1="26.5" y1="439.4" x2="32.5" y2="439.4" stroke="#111" stroke-width="1"/><line x1="29.0" y1="458.0" x2="32.5" y2="458.0" stroke="#111" stroke-width="1"/><line x1="26.5" y1="476.6" x2="32.5" y2="476.6" stroke="#111" stroke-width="1"/><line x1="29.0" y1="495.2" x2="32.5" y2="495.2" stroke="#111" stroke-width="1"/><line x1="26.5" y1="513.8" x2="32.5" y2="513.8" stroke="#111" stroke-width="1"/><line x1="29.0" y1="532.4" x2="32.5" y2="532.4" stroke="#111" stroke-width="1"/><line x1="26.5" y1="551.0" x2="32.5" y2="551.0" stroke="#111" stroke-width="1"/><line x1="29.0" y1="569.6" x2="32.5" y2="569.6" stroke="#111" stroke-width="1"/><line x1="26.5" y1="588.2" x2="32.5" y2="588.2" stroke="#111" stroke-width="1"/><line x1="29.0" y1="606.8" x2="32.5" y2="606.8" stroke="#111" stroke-width="1"/><line x1="26.5" y1="625.4" x2="32.5" y2="625.4" stroke="#111" stroke-width="1"/><line x1="29.0" y1="644.0" x2="32.5" y2="644.0" stroke="#111" stroke-width="1"/><line x1="374.0" y1="381.2" x2="377.5" y2="381.2" stroke="#111" stroke-width="1"/><line x1="371.5" y1="400.1" x2="377.5" y2="400.1" stroke="#111" stroke-width="1"/><line x1="374.0" y1="419.0" x2="377.5" y2="419.0" stroke="#111" stroke-width="1"/><line x1="371.5" y1="437.9" x2="377.5" y2="437.9" stroke="#111" stroke-width="1"/><line x1="374.0" y1="456.8" x2="377.5" y2="456.8" stroke="#111" stroke-width="1"/><line x1="371.5" y1="475.7" x2="377.5" y2="475.7" stroke="#111" stroke-width="1"/><line x1="374.0" y1="494.6" x2="377.5" y2="494.6" stroke="#111" stroke-width="1"/><line x1="371.5" y1="513.5" x2="377.5" y2="513.5" stroke="#111" stroke-width="1"/><line x1="374.0" y1="532.4" x2="377.5" y2="532.4" stroke="#111" stroke-width="1"/><line x1="371.5" y1="551.3" x2="377.5" y2="551.3" stroke="#111" stroke-width="1"/><line x1="374.0" y1="570.2" x2="377.5" y2="570.2" stroke="#111" stroke-width="1"/><line x1="371.5" y1="589.1" x2="377.5" y2="589.1" stroke="#111" stroke-width="1"/><line x1="374.0" y1="608.0" x2="377.5" y2="608.0" stroke="#111" stroke-width="1"/><line x1="371.5" y1="626.9" x2="377.5" y2="626.9" stroke="#111" stroke-width="1"/><line x1="374.0" y1="645.8" x2="377.5" y2="645.8" stroke="#111" stroke-width="1"/><line x1="26.5" y1="722.3" x2="32.5" y2="722.3" stroke="#111" stroke-width="1"/><line x1="29.0" y1="740.5" x2="32.5" y2="740.5" stroke="#111" stroke-width="1"/><line x1="26.5" y1="758.7" x2="32.5" y2="758.7" stroke="#111" stroke-width="1"/><line x1="29.0" y1="776.9" x2="32.5" y2="776.9" stroke="#111" stroke-width="1"/><line x1="26.5" y1="795.1" x2="32.5" y2="795.1" stroke="#111" stroke-width="1"/><line x1="29.0" y1="813.3" x2="32.5" y2="813.3" stroke="#111" stroke-width="1"/><line x1="26.5" y1="831.5" x2="32.5" y2="831.5" stroke="#111" stroke-width="1"/><line x1="29.0" y1="849.7" x2="32.5" y2="849.7" stroke="#111" stroke-width="1"/><line x1="26.5" y1="867.9" x2="32.5" y2="867.9" stroke="#111" stroke-width="1"/><line x1="29.0" y1="886.1" x2="32.5" y2="886.1" stroke="#111" stroke-width="1"/><line x1="26.5" y1="904.3" x2="32.5" y2="904.3" stroke="#111" stroke-width="1"/><line x1="29.0" y1="922.5" x2="32.5" y2="922.5" stroke="#111" stroke-width="1"/><line x1="26.5" y1="940.7" x2="32.5" y2="940.7" stroke="#111" stroke-width="1"/><line x1="29.0" y1="958.9" x2="32.5" y2="958.9" stroke="#111" stroke-width="1"/><line x1="26.5" y1="977.1" x2="32.5" y2="977.1" stroke="#111" stroke-width="1"/><line x1="29.0" y1="995.3" x2="32.5" y2="995.3" stroke="#111" stroke-width="1"/><line x1="374.0" y1="728.0" x2="377.5" y2="728.0" stroke="#111" stroke-width="1"/><line x1="371.5" y1="753.8" x2="377.5" y2="753.8" stroke="#111" stroke-width="1"/><line x1="371.5" y1="779.6" x2="377.5" y2="779.6" stroke="#111" stroke-width="1"/><line x1="371.5" y1="805.4" x2="377.5" y2="805.4" stroke="#111" stroke-width="1"/><line x1="371.5" y1="831.2" x2="377.5" y2="831.2" stroke="#111" stroke-width="1"/><line x1="371.5" y1="857.0" x2="377.5" y2="857.0" stroke="#111" stroke-width="1"/><line x1="371.5" y1="882.8" x2="377.5" y2="882.8" stroke="#111" stroke-width="1"/><line x1="371.5" y1="908.6" x2="377.5" y2="908.6" stroke="#111" stroke-width="1"/><line x1="371.5" y1="934.4" x2="377.5" y2="934.4" stroke="#111" stroke-width="1"/><line x1="371.5" y1="960.2" x2="377.5" y2="960.2" stroke="#111" stroke-width="1"/><line x1="371.5" y1="986.0" x2="377.5" y2="986.0" stroke="#111" stroke-width="1"/><text x="181.2" y="355.6" text-anchor="middle" class="ax">R (Å)</text><text x="530.4" y="355.6" text-anchor="middle" class="ax">R (Å)</text><text x="183" y="703.5" text-anchor="middle" class="ax">R (Å)</text><text x="529" y="703.5" text-anchor="middle" class="ax">R (Å)</text><text x="181.2" y="1054.2" text-anchor="middle" class="ax">R (Å)</text><text x="526" y="1054.2" text-anchor="middle" class="ax">R (Å)</text><text x="348.3" y="1386.5" text-anchor="middle" class="ax">R (Å)</text><text transform="translate(19.5,171.5) rotate(-90)" text-anchor="middle" class="yl">Time-on-stream (min)</text><text transform="translate(365.6,171.6) rotate(-90)" text-anchor="middle" class="yl">Time-on-stream (min)</text><text transform="translate(19.5,512) rotate(-90)" text-anchor="middle" class="yl">Time-on-stream (min)</text><text transform="translate(365.6,511) rotate(-90)" text-anchor="middle" class="yl">Time-on-stream (min)</text><text transform="translate(19.5,861.7) rotate(-90)" text-anchor="middle" class="yl">Time-on-stream (min)</text><text transform="translate(365.6,859.9) rotate(-90)" text-anchor="middle" class="yl">Time-on-stream (min)</text><text transform="translate(19.5,1199.5) rotate(-90)" text-anchor="middle" class="yl">Time-on-stream (min)</text><text x="-0.8" y="46.6" class="pl" textLength="21.8" lengthAdjust="spacingAndGlyphs">A</text><text x="346.2" y="46.2" class="pl" textLength="22.2" lengthAdjust="spacingAndGlyphs">B</text><text x="-0.5" y="398.6" class="pl" textLength="19.6" lengthAdjust="spacingAndGlyphs">C</text><text x="346.2" y="398.8" class="pl" textLength="22.2" lengthAdjust="spacingAndGlyphs">D</text><text x="0.7" y="748.4" class="pl" textLength="17.6" lengthAdjust="spacingAndGlyphs">E</text><text x="347.9" y="748.7" class="pl" textLength="17.4" lengthAdjust="spacingAndGlyphs">F</text><text x="188.5" y="12.6" text-anchor="middle" class="tt">CO<tspan font-size="11" dy="4">2</tspan><tspan dy="-4">/H</tspan><tspan font-size="11" dy="4">2</tspan><tspan dy="-4"> pulsing</tspan></text><text x="534" y="12.6" text-anchor="middle" class="tt">Ethene/H<tspan font-size="11" dy="4">2</tspan><tspan dy="-4"> pulsing</tspan></text><text x="312.5" y="291" text-anchor="end" class="nm">1.2 nm</text><text x="658.7" y="291" text-anchor="end" class="nm">1.2 nm</text><text x="312.5" y="638.8" text-anchor="end" class="nm">2.1 nm</text><text x="658.7" y="638.8" text-anchor="end" class="nm">2.1 nm</text><text x="312" y="959.6" text-anchor="end" class="nm">4.4 nm</text><text x="658.7" y="959.6" text-anchor="end" class="nm">4.4 nm</text><rect x="291.9" y="58.20" width="28.5" height="23.2" fill="#00456b"/><rect x="291.9" y="80.65" width="28.5" height="23.2" fill="#006287"/><rect x="291.9" y="103.10" width="28.5" height="23.2" fill="#0d8189"/><rect x="291.9" y="125.55" width="28.5" height="23.2" fill="#17a597"/><rect x="291.9" y="148.00" width="28.5" height="23.2" fill="#6fb19d"/><rect x="291.9" y="170.45" width="28.5" height="23.2" fill="#cbc4a8"/><rect x="291.9" y="192.90" width="28.5" height="23.2" fill="#c8b79b"/><rect x="291.9" y="215.35" width="28.5" height="22.45" fill="#c6ae92"/><text x="284.5" y="56" text-anchor="end" class="nm">0</text><text x="284.5" y="231.5" text-anchor="end" class="nm">1.8</text><rect x="378" y="920.7" width="304" height="71.3" fill="#f0ece6" fill-opacity="0.26"/><line x1="33" y1="963.6" x2="335.5" y2="963.6" stroke="#d8d8d8" stroke-width="1.1" stroke-dasharray="8.4 7.8" stroke-dashoffset="-4.3"/><line x1="33" y1="976.6" x2="335.5" y2="976.6" stroke="#d8d8d8" stroke-width="1.1" stroke-dasharray="8.4 7.8" stroke-dashoffset="-4.3"/><line x1="33" y1="989.8" x2="335.5" y2="989.8" stroke="#d8d8d8" stroke-width="1.1" stroke-dasharray="8.4 7.8" stroke-dashoffset="-4.3"/><line x1="33" y1="1003.0" x2="335.5" y2="1003.0" stroke="#d8d8d8" stroke-width="1.1" stroke-dasharray="8.4 7.8" stroke-dashoffset="-4.3"/><line x1="335.2" y1="971.8" x2="335.2" y2="976.6" stroke="#d8d8d8" stroke-width="1.1"/><line x1="335.2" y1="998.6" x2="335.2" y2="1003.0" stroke="#d8d8d8" stroke-width="1.1"/><line x1="378" y1="963.6" x2="681" y2="963.6" stroke="#d8d8d8" stroke-width="1.1" stroke-dasharray="8.4 7.8" stroke-dashoffset="-5.5"/><line x1="378" y1="976.6" x2="681" y2="976.6" stroke="#d8d8d8" stroke-width="1.1" stroke-dasharray="8.4 7.8" stroke-dashoffset="-5.5"/><line x1="378" y1="989.8" x2="681" y2="989.8" stroke="#d8d8d8" stroke-width="1.1" stroke-dasharray="8.4 7.8" stroke-dashoffset="-5.5"/><line x1="378" y1="1003.0" x2="681" y2="1003.0" stroke="#d8d8d8" stroke-width="1.1" stroke-dasharray="8.4 7.8" stroke-dashoffset="-5.5"/><line x1="680.7" y1="971.8" x2="680.7" y2="976.6" stroke="#d8d8d8" stroke-width="1.1"/><line x1="680.7" y1="998.6" x2="680.7" y2="1003.0" stroke="#d8d8d8" stroke-width="1.1"/><line x1="187.4" y1="969" x2="206.8" y2="969" stroke="#d0d0d0" stroke-width="1.3"/><path d="M183.4,969 L188.9,966.2 L188.9,971.8 Z" fill="#e8e8e8"/><line x1="187.4" y1="983" x2="206.8" y2="983" stroke="#d0d0d0" stroke-width="1.3"/><path d="M183.4,983 L188.9,980.2 L188.9,985.8 Z" fill="#e8e8e8"/><line x1="187.4" y1="996.6" x2="206.8" y2="996.6" stroke="#d0d0d0" stroke-width="1.3"/><path d="M183.4,996.6 L188.9,993.8000000000001 L188.9,999.4 Z" fill="#e8e8e8"/><line x1="539" y1="971.9" x2="558.5" y2="971.9" stroke="#d0d0d0" stroke-width="1.3"/><path d="M535,971.9 L540.5,969.1 L540.5,974.6999999999999 Z" fill="#e8e8e8"/><line x1="539" y1="983.9" x2="558.5" y2="983.9" stroke="#d0d0d0" stroke-width="1.3"/><path d="M535,983.9 L540.5,981.1 L540.5,986.6999999999999 Z" fill="#e8e8e8"/><line x1="539" y1="997.4" x2="558.5" y2="997.4" stroke="#d0d0d0" stroke-width="1.3"/><path d="M535,997.4 L540.5,994.6 L540.5,1000.1999999999999 Z" fill="#e8e8e8"/><text x="209.6" y="973.2" class="an">CO<tspan font-size="8.5" dy="2.6">2</tspan></text><text x="210.2" y="986.6" class="an">Hydrogen</text><text x="209.6" y="1000.6" class="an">CO<tspan font-size="8.5" dy="2.6">2</tspan></text><text x="562.4" y="975.4" class="an">Ethene</text><text x="561.8" y="987.8" class="an">Hydrogen</text><text x="562.4" y="1000.6" class="an">Ethene</text><path d="M530.60,933.80 L530.60,930.00 M530.60,933.80 L534.21,932.63 M530.60,933.80 L532.83,936.87 M530.60,933.80 L528.37,936.87 M530.60,933.80 L526.99,932.63" stroke="#fff" stroke-width="1.5" stroke-linecap="butt" fill="none"/><path d="M658.70,1090.20 L658.70,1080.40 M658.70,1090.20 L668.02,1087.17 M658.70,1090.20 L664.46,1098.13 M658.70,1090.20 L652.94,1098.13 M658.70,1090.20 L649.38,1087.17" stroke="#fff" stroke-width="3.9" stroke-linecap="butt" fill="none"/><text x="406.3" y="708" text-anchor="middle" class="ni">Ni-C</text><text x="454" y="708" text-anchor="middle" class="ni">Ni-Ni</text><line x1="416.6" y1="712" x2="416.6" y2="731.6" stroke="#1a1a1a" stroke-width="1.1"/><line x1="440.5" y1="712" x2="440.5" y2="731.6" stroke="#1a1a1a" stroke-width="1.1"/><line x1="148.2" y1="1068.3" x2="229.8" y2="1068.3" stroke="#cfcfcf" stroke-width="1.1" stroke-dasharray="8.35 8.04" stroke-dashoffset="4.35"/><line x1="148.2" y1="1144.2" x2="229.8" y2="1144.2" stroke="#cfcfcf" stroke-width="1.1" stroke-dasharray="8.35 8.04" stroke-dashoffset="4.35"/><line x1="148.2" y1="1068.3" x2="148.2" y2="1144.2" stroke="#cfcfcf" stroke-width="1.1" stroke-dasharray="7.70 7.42" stroke-dashoffset="3.70"/><line x1="229.8" y1="1068.3" x2="229.8" y2="1144.2" stroke="#cfcfcf" stroke-width="1.1" stroke-dasharray="7.70 7.42" stroke-dashoffset="3.70"/><line x1="148.2" y1="1162.5" x2="229.8" y2="1162.5" stroke="#cfcfcf" stroke-width="1.1" stroke-dasharray="8.35 8.04" stroke-dashoffset="4.35"/><line x1="148.2" y1="1238.7" x2="229.8" y2="1238.7" stroke="#cfcfcf" stroke-width="1.1" stroke-dasharray="8.35 8.04" stroke-dashoffset="4.35"/><line x1="148.2" y1="1162.5" x2="148.2" y2="1238.7" stroke="#cfcfcf" stroke-width="1.1" stroke-dasharray="7.73 7.45" stroke-dashoffset="3.73"/><line x1="229.8" y1="1162.5" x2="229.8" y2="1238.7" stroke="#cfcfcf" stroke-width="1.1" stroke-dasharray="7.73 7.45" stroke-dashoffset="3.73"/><line x1="148.2" y1="1257" x2="229.8" y2="1257" stroke="#cfcfcf" stroke-width="1.1" stroke-dasharray="8.35 8.04" stroke-dashoffset="4.35"/><line x1="148.2" y1="1332.8" x2="229.8" y2="1332.8" stroke="#cfcfcf" stroke-width="1.1" stroke-dasharray="8.35 8.04" stroke-dashoffset="4.35"/><line x1="148.2" y1="1257" x2="148.2" y2="1332.8" stroke="#cfcfcf" stroke-width="1.1" stroke-dasharray="7.69 7.41" stroke-dashoffset="3.69"/><line x1="229.8" y1="1257" x2="229.8" y2="1332.8" stroke="#cfcfcf" stroke-width="1.1" stroke-dasharray="7.69 7.41" stroke-dashoffset="3.69"/><line x1="237.4" y1="1068.3" x2="370.2" y2="1068.3" stroke="#cfcfcf" stroke-width="1.1" stroke-dasharray="8.49 8.18" stroke-dashoffset="4.49"/><line x1="237.4" y1="1144.2" x2="370.2" y2="1144.2" stroke="#cfcfcf" stroke-width="1.1" stroke-dasharray="8.49 8.18" stroke-dashoffset="4.49"/><line x1="237.4" y1="1068.3" x2="237.4" y2="1144.2" stroke="#cfcfcf" stroke-width="1.1" stroke-dasharray="7.70 7.42" stroke-dashoffset="3.70"/><line x1="370.2" y1="1068.3" x2="370.2" y2="1144.2" stroke="#cfcfcf" stroke-width="1.1" stroke-dasharray="7.70 7.42" stroke-dashoffset="3.70"/><line x1="237.4" y1="1162.5" x2="370.2" y2="1162.5" stroke="#cfcfcf" stroke-width="1.1" stroke-dasharray="8.49 8.18" stroke-dashoffset="4.49"/><line x1="237.4" y1="1238.7" x2="370.2" y2="1238.7" stroke="#cfcfcf" stroke-width="1.1" stroke-dasharray="8.49 8.18" stroke-dashoffset="4.49"/><line x1="237.4" y1="1162.5" x2="237.4" y2="1238.7" stroke="#cfcfcf" stroke-width="1.1" stroke-dasharray="7.73 7.45" stroke-dashoffset="3.73"/><line x1="370.2" y1="1162.5" x2="370.2" y2="1238.7" stroke="#cfcfcf" stroke-width="1.1" stroke-dasharray="7.73 7.45" stroke-dashoffset="3.73"/><line x1="237.4" y1="1257" x2="370.2" y2="1257" stroke="#cfcfcf" stroke-width="1.1" stroke-dasharray="8.49 8.18" stroke-dashoffset="4.49"/><line x1="237.4" y1="1332.8" x2="370.2" y2="1332.8" stroke="#cfcfcf" stroke-width="1.1" stroke-dasharray="8.49 8.18" stroke-dashoffset="4.49"/><line x1="237.4" y1="1257" x2="237.4" y2="1332.8" stroke="#cfcfcf" stroke-width="1.1" stroke-dasharray="7.69 7.41" stroke-dashoffset="3.69"/><line x1="370.2" y1="1257" x2="370.2" y2="1332.8" stroke="#cfcfcf" stroke-width="1.1" stroke-dasharray="7.69 7.41" stroke-dashoffset="3.69"/><line x1="486.1" y1="1068.3" x2="619.2" y2="1068.3" stroke="#cfcfcf" stroke-width="1.1" stroke-dasharray="8.51 8.19" stroke-dashoffset="4.51"/><line x1="486.1" y1="1144.2" x2="619.2" y2="1144.2" stroke="#cfcfcf" stroke-width="1.1" stroke-dasharray="8.51 8.19" stroke-dashoffset="4.51"/><line x1="486.1" y1="1068.3" x2="486.1" y2="1144.2" stroke="#cfcfcf" stroke-width="1.1" stroke-dasharray="7.70 7.42" stroke-dashoffset="3.70"/><line x1="619.2" y1="1068.3" x2="619.2" y2="1144.2" stroke="#cfcfcf" stroke-width="1.1" stroke-dasharray="7.70 7.42" stroke-dashoffset="3.70"/><line x1="486.1" y1="1162.5" x2="619.2" y2="1162.5" stroke="#cfcfcf" stroke-width="1.1" stroke-dasharray="8.51 8.19" stroke-dashoffset="4.51"/><line x1="486.1" y1="1238.7" x2="619.2" y2="1238.7" stroke="#cfcfcf" stroke-width="1.1" stroke-dasharray="8.51 8.19" stroke-dashoffset="4.51"/><line x1="486.1" y1="1162.5" x2="486.1" y2="1238.7" stroke="#cfcfcf" stroke-width="1.1" stroke-dasharray="7.73 7.45" stroke-dashoffset="3.73"/><line x1="619.2" y1="1162.5" x2="619.2" y2="1238.7" stroke="#cfcfcf" stroke-width="1.1" stroke-dasharray="7.73 7.45" stroke-dashoffset="3.73"/><line x1="486.1" y1="1257" x2="619.2" y2="1257" stroke="#cfcfcf" stroke-width="1.1" stroke-dasharray="8.51 8.19" stroke-dashoffset="4.51"/><line x1="486.1" y1="1332.8" x2="619.2" y2="1332.8" stroke="#cfcfcf" stroke-width="1.1" stroke-dasharray="8.51 8.19" stroke-dashoffset="4.51"/><line x1="486.1" y1="1257" x2="486.1" y2="1332.8" stroke="#cfcfcf" stroke-width="1.1" stroke-dasharray="7.69 7.41" stroke-dashoffset="3.69"/><line x1="619.2" y1="1257" x2="619.2" y2="1332.8" stroke="#cfcfcf" stroke-width="1.1" stroke-dasharray="7.69 7.41" stroke-dashoffset="3.69"/>
</svg></body></html>
